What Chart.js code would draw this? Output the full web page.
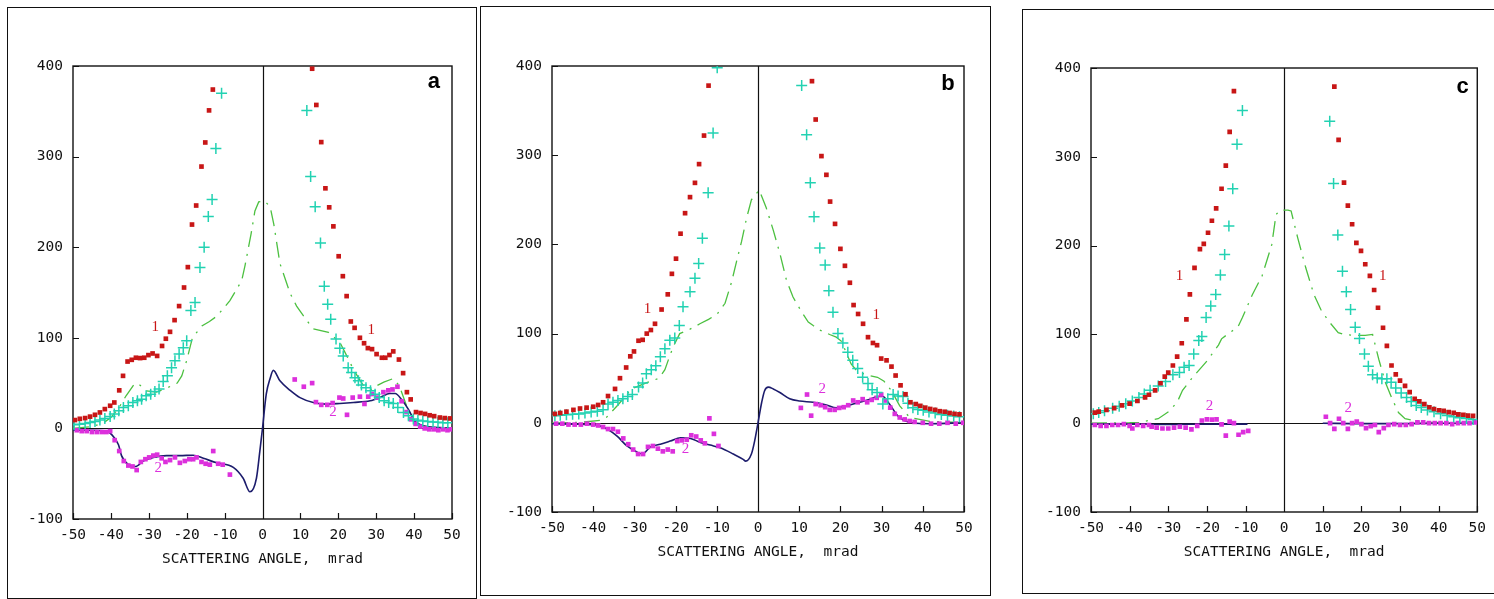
<!DOCTYPE html>
<html>
<head>
<meta charset="utf-8">
<script src="https://cdn.jsdelivr.net/npm/chart.js@4.4.1/dist/chart.umd.min.js"></script>
<style>
  html, body { margin: 0; padding: 0; background: #fff; width: 1494px; height: 599px; overflow: hidden; position: relative; }
  .panel { position: absolute; border: 1.5px solid #111; box-sizing: border-box; }
  canvas { position: absolute; left: 0; top: 0; }
</style>
</head>
<body>
<div class="panel" style="left:7px;top:7px;width:470px;height:592px"></div>
<div class="panel" style="left:480px;top:6px;width:511px;height:590px"></div>
<div class="panel" style="left:1022px;top:9px;width:480px;height:585px"></div>
<canvas id="chartA" width="1494" height="599"></canvas>
<canvas id="chartB" width="1494" height="599"></canvas>
<canvas id="chartC" width="1494" height="599"></canvas>

<script>
// ── Axis ticks ────────────────────────────────────────────────────────
const xTicks = [-50, -40, -30, -20, -10, 0, 10, 20, 30, 40, 50];
const yTicks = [-100, 0, 100, 200, 300, 400];
const xTitle = 'SCATTERING ANGLE,  mrad';
const panelLetters = ['a', 'b', 'c'];
const letterX = [45.2, 46.1, 46.2];
const letterY = [382, 380, 379];
const curveLabels = ['1', '1', '2', '2'];

// ── Panel a ───────────────────────────────────────────────────────────
const aRedX = [-49.5,-48.2,-46.8,-45.5,-44.2,-42.9,-41.6,-40.2,-39.1,-37.8,-36.8,-35.6,-34.5,-33.4,-32.3,-31.2,-30.1,-29,-27.8,-26.5,-25.5,-24.4,-23.2,-22,-20.7,-19.7,-18.6,-17.5,-16.1,-15.1,-14.1,-13.1,
  13.1,14.2,15.5,16.6,17.6,18.7,20.1,21.2,22.2,23.3,24.3,25.7,26.8,27.8,28.9,30.1,31.5,32.4,33.5,34.5,36,37.1,38.1,39.1,40.5,41.7,42.9,44.1,45.3,46.8,48.1,49.5];
const aRedY = [9.2,10.6,11.4,13,15,17.6,21.3,25,28.6,42,58,73.8,75.7,78,77.6,78,80.9,82.7,80,91,99,106.6,119.5,135,155.5,178,225,246,289,315.6,351,374,
  397,357,316,265,244,223,190,168,146,118,111,100,94,88.6,87.5,82,78,78,81,85,76,61,40,32,18,17,16,14.5,13.5,12,11.4,11];
const aCyanX = [-49.7,-48.3,-46.8,-45.5,-44.2,-42.9,-41.6,-40.2,-39.1,-37.9,-36.7,-35.4,-34.2,-33,-31.9,-30.7,-29.5,-28.4,-27.3,-26.2,-25.1,-24,-23.1,-22,-20.9,-20,-18.9,-17.8,-16.5,-15.4,-14.3,-13.3,-12.3,-10.8,
  11.7,12.7,13.9,15.3,16.3,17.2,18,19.4,20.4,21.3,22.6,23.5,24.4,25.3,26.1,27.3,28.5,29.7,30.8,32.1,33.3,34.5,35.7,37.2,38.5,39.8,41,42.3,43.6,45,46.3,47.6,48.9];
const aCyanY = [4,4.7,5.4,6.5,7.6,9.2,11,13,15.8,19.4,23,25,28.6,30.5,32.3,36,37.8,40.7,43.4,51.8,58,67,74.6,82,89,96.7,130,139,177.6,200,234,252.6,309,370,
  351,278,244.6,204.5,157,137,120.6,98.6,88.6,80,67,61.7,56,52.5,48,45,41.5,37.8,34,30.5,28.6,27.5,23,17.6,13.9,10.3,9,8.3,7.6,7,6.8,6.3,6.3];
const aGreenX = [-50,-45,-42,-40,-38,-36,-34,-33,-30.6,-28,-25,-22.5,-21.3,-20,-18.5,-16,-14,-12,-10.8,-8.6,-5.5,-4.6,-3,-2,-1,0.5,2,3,4.6,7.3,9,11.7,13.4,17.4,20.4,22,24,26.5,28.8,30.1,32,34.5,36.1,38,40,42,45,50];
const aGreenY = [0,2,6,12,22,36,48,50,41.5,40,45,50,58,75,100,113,118,124,130,141,163,180,215,240,250,251,245,225,182,149,135,119,110,106,95,82,65,48,43,47,51,55,47,25,8,3,1,0];
const aMagX = [-49,-47.7,-46.4,-45,-43.7,-42.4,-41.2,-40.2,-39,-37.8,-36.6,-35.4,-34.3,-33.2,-32.1,-30.9,-29.9,-28.8,-27.8,-26.6,-25.6,-24.4,-23.1,-21.8,-20.5,-19.3,-18.3,-17.4,-16.1,-15,-13.9,-13,-11.7,-10.5,-8.6,
  8.5,10.9,13.1,14.1,15.5,17.1,18.5,20.3,21.3,22.3,23.8,25.7,26.9,27.9,28.9,30.1,31.9,33.2,34.3,35.6,36.7,38,39.2,40.4,41.6,42.8,44,45.2,46.4,47.6,48.8,49.8];
const aMagY = [-2,-3,-3,-4,-4,-4,-4,-3,-13,-25,-36,-41,-42,-46,-37,-34,-32,-30,-29,-33,-37,-35,-32,-38,-36,-34,-34,-32,-37,-39,-40,-25,-39,-40,-51,
  54,46,50,29,26,26,28,34,33,15,34,35,27,35,38,34,40,42,43,46,30,18,10,5,2,0,-1,-1,-2,-1,-2,-1];
const aNavyX = [-50,-45,-41,-40,-38,-37.2,-35.4,-33.4,-31.5,-28.8,-25.3,-21.8,-18.3,-15.6,-12.1,-7.7,-5.1,-3.3,-1.6,-0.7,0,1,2,2.85,4.6,7.3,9.9,13.4,16.9,20.4,24,28.4,31,33.6,35,36.7,38.5,40.2,42.4,46.8,50];
const aNavyY = [-2,-2,-3,-6,-18,-30,-40,-42,-36,-32,-30,-30,-29.6,-33,-38,-43,-55,-70,-55,-25,0,38,55,64,52.5,42,34,28.6,26.8,27.5,28.6,30.5,34,38.5,38.5,32,21,8,3,1,0];
const aLabelX = [-28.3, 28.7, -27.5, 18.6];
const aLabelY = [112, 109, -44, 18];

// ── Panel b ───────────────────────────────────────────────────────────
const bRedX = [-49.3,-48,-46.5,-44.8,-43.2,-41.6,-40,-38.8,-37.6,-36.4,-34.7,-33.5,-32,-31,-30.1,-29,-28,-27,-26,-25,-23.4,-21.9,-20.9,-19.9,-18.8,-17.7,-16.5,-15.3,-14.3,-13.1,-12,
  13.1,14,15.4,16.6,17.5,18.7,20,21.1,22.3,23.2,24.3,25.5,26.7,27.9,28.9,29.9,31.2,32.4,33.4,34.6,35.8,37,38.3,39.4,40.6,41.8,43,44.1,45.3,46.5,47.7,48.9];
const bRedY = [10,11,12.5,14.5,16,17,18,20,23,30,38,50,62,74.5,80,92,93,100,104,111,127,144,167,184,212,235,253,269,290,322,378,
  383,340,299,278,248,223,195,176,157,132,122,111,96,89.5,87,72,70,63,53,42,32,23,21,19,17,15.5,14.5,13,12.4,11,10,9.5];
const bCyanX = [-49.3,-48,-46.5,-45,-43.5,-42,-40.5,-39,-37.6,-36.4,-35.2,-34,-32.8,-31.6,-30.5,-29,-28,-27.1,-25.9,-24.8,-23.7,-22.6,-21.4,-20.2,-19.1,-18.2,-16.5,-15.3,-14.4,-13.5,-12.1,-10.9,-9.9,
  10.6,11.8,12.7,13.6,15,16.3,17.2,18.2,19.4,20.6,21.8,23,24.2,25.4,26.7,27.7,28.9,30.3,31.5,32.8,34,35.2,36.4,37.6,38.8,40.1,41.5,43,44.5,46,47.5,48.9];
const bCyanY = [8,8.5,9,9.5,10,11,12,13,14.5,21,23,25,27,29.5,31.7,40,44.5,55,59.5,64,74,83,92.5,95,109,130,147,162,178.5,207,258,325,398,
  378,323,269,231,196,177,148,124,100,89.5,79,70,61,51,44,37,34,21,27,31.7,30,29.5,22,17,15,14,12,11,9.4,8.6,7.7,6.8];
const bGreenX = [-50,-43,-38,-36.8,-34,-30.7,-27,-24,-22.6,-21.8,-20.6,-19,-16.5,-14.1,-12,-9.9,-8,-6.4,-5.2,-4,-2.8,-1.6,0.3,2,3.7,5.3,6.9,8.5,10.5,12.2,13.4,15,17.4,19,20.2,21.4,22.6,24.2,27,29,30.6,32.4,34.4,36.8,41.7,50];
const bGreenY = [0,0.5,3,6,20,38,45,50,59.5,70,85,100,105,111,116,122,134,158,181,203,229,250,261,241,216,190,160,141,125,113,109,104,99,96,91.6,79,66,57,53,51,46.6,36,19,6,1.7,0];
const bMagX = [-49,-47.5,-46,-44.5,-43,-41.5,-40,-38.8,-37.6,-36.4,-35.2,-34,-32.7,-31.5,-30.3,-29.1,-27.9,-26.7,-25.5,-24.3,-23.1,-21.9,-20.7,-19.6,-18.5,-17.3,-16.2,-15,-13.9,-12.9,-11.8,-10.7,-9.6,
  10.4,11.9,12.9,14,15.2,16.3,17.4,18.6,19.7,20.8,21.9,23.1,24.2,25.4,26.5,27.6,28.8,29.9,31,32.1,33.2,34.4,35.6,36.8,38,40,42,44,46,48,49.8];
const bMagY = [-1,-1,-2,-2,-2,-1,-2,-3,-4.7,-7,-7,-10,-17.5,-24,-30,-35,-35,-27,-26,-29,-32,-30,-32,-20.5,-19.7,-19,-14,-15.4,-19.7,-23,5,-12.4,-26,
  16.7,31.7,8,21,19.7,17.5,14.5,14.5,16.7,17.5,19.7,25,23,26.5,23,25.7,28,31.7,25,17,10,6,3.8,2,1,0,-1,-1,0,-1,0];
const bNavyX = [-50,-45,-40,-39,-36.6,-34.2,-31.8,-29.3,-28.1,-26.1,-23.7,-21.3,-18.8,-16.4,-14,-11.6,-9.2,-6,-3.6,-3,-1.6,-0.8,0,0.9,1.6,2.5,3.7,5.3,7.7,10.1,13.4,16.6,19,21.4,24.6,27,29,30.3,31.9,33.9,35.5,37.6,41.7,50];
const bNavyY = [-1,-1.5,-2,-2.6,-7,-15,-26,-33,-35,-27,-24,-20.5,-16.7,-17.5,-22,-25,-28,-35,-41,-43,-35,-20,0,23,36,40,38,34,27,24.4,23,20,16.7,19,23,26,29.5,29.5,21,8,2.6,0,-1,0];
const bLabelX = [-26.8, 28.7, -17.6, 15.6];
const bLabelY = [128, 121, -30, 38];

// ── Panel c ───────────────────────────────────────────────────────────
const cRedX = [-49,-48,-46,-44,-42,-40,-38,-36,-35,-33.4,-32,-30.9,-30,-28.8,-27.7,-26.5,-25.3,-24.4,-23.2,-21.8,-20.8,-19.7,-18.7,-17.6,-16.2,-15.1,-14.1,-13,
  13,14.1,15.5,16.5,17.6,18.7,19.9,21,22.2,23.3,24.3,25.6,26.6,27.8,28.9,30,31.3,32.5,33.8,35,36.3,37.6,38.8,40.1,41.3,42.6,43.9,45.1,46.4,47.6,48.9];
const cRedY = [12,13,15,17,20,22,25,29,32,37,45,52.5,57,65,75,90,117,145,175,196,202,214.5,228,242,264,290,328,374,
  379,319,271,245,224,203,194,179,166,150,130,107.5,87,65,55,48,42,35,27.5,24.5,21.5,18,16,14.6,13.8,12.5,11.6,10,9.5,8.6,8.2];
const cCyanX = [-49.4,-48,-46.5,-44.4,-42.7,-41,-39.3,-37.6,-36.2,-34.7,-32.6,-30.7,-28.8,-27.1,-25.9,-24.6,-23.4,-22.1,-21.3,-20.2,-19,-17.7,-16.5,-15.4,-14.3,-13.3,-12.2,-10.8,
  11.8,12.8,13.9,15.1,16.1,17.2,18.4,19.5,20.8,21.8,22.9,24.1,25.3,26.6,27.7,28.9,30.3,31.7,32.9,34.2,35.5,37.1,38.8,40.5,42.2,43.9,45.5,47.2,48.9];
const cCyanY = [10.7,12,14,16.8,19,22,25,29,33,37,42,47,54.6,57,63,65,78,93,97.6,119,132,145,167,190,222,264,314,352,
  340,270,212,171,148,128,108,95.4,78,64,54.6,51,50,50,46,39.5,34,29,24.5,20,17.6,15,12.9,10.7,8.6,7.3,6,5.2,4.3];
const cGreenX = [-50,-40,-37.6,-32.6,-29.6,-27.6,-26.3,-24,-20,-17,-16.2,-14.1,-12,-10.8,-8.2,-5.7,-3.2,-2.1,-1,0,1,1.8,3.5,5.6,7.7,9.5,11.5,14,15.5,18,21,22.9,24.5,26.2,27.9,29.6,31.3,36.3,50];
const cGreenY = [0,0.5,1,5,14,24.5,37,50,70,88,95,102,108,119,145,166,201,235,240,240,240,239,209,175,145,128,115,102,100,99,99,100,72,46,28,12,5,1,0];
const cMagX = [-49,-47.5,-46,-44.5,-43,-41.5,-40,-39.3,-38,-36.5,-35,-34.3,-33,-31.5,-30,-28.5,-27,-25.5,-24,-22.5,-21.3,-20,-18.7,-17.5,-16.2,-15.1,-14.1,-13,-11.8,-10.6,-9.3,
  10.8,11.9,13,14.2,15.3,16.5,17.6,18.8,20,21.2,22.4,23.5,24.5,25.8,27,28.5,30,31.5,33,34.5,36,37.5,39,40.5,42,43.5,45,46.5,48,49.5];
const cMagY = [-2,-3,-3,-2,-2,-1,-3,-6,-2,-3,-2,-4,-5,-6,-6,-5,-4,-5,-7,-3,3,4.3,4,4.3,-1.3,-14,1.7,0,-13,-10,-8.6,
  7.3,0,-6.4,5,0,-6.4,0,1.7,-1,-5.6,-3.4,-2,-10,-5.6,-2,-1,-2,-2,-1,1,1,0,0,0,0,-1,0,0,0,1];
const cNavyX = [-50,-40,-30,-20,-9.5,0,10,20,30,40,50];
const cNavyY = [-1,-1,-1.5,-1,-1,null,0,-0.5,-0.5,0,0];
const cLabelX = [-27.1, 25.5, -19.3, 16.6];
const cLabelY = [166, 166, 19, 17];

// ── Helpers ───────────────────────────────────────────────────────────
const MONO = '"DejaVu Sans Mono", "Liberation Mono", monospace';
const RED = '#c81616', CYAN = '#22d2b2', GREEN = '#4cc040', MAGENTA = '#dc30dc', NAVY = '#1c1c6c';

function pts(xs, ys) {
  return xs.map((x, i) => ({ x, y: ys[i] }));
}

// frame, zero lines, inward ticks, curve labels and panel letter
const framePlugin = {
  id: 'frame',
  beforeDatasetsDraw(chart) {
    const { ctx, chartArea: a, scales: { x, y } } = chart;
    ctx.save();
    ctx.strokeStyle = '#111';
    ctx.lineWidth = 1.4;
    ctx.strokeRect(a.left, a.top, a.right - a.left, a.bottom - a.top);
    ctx.lineWidth = 1.2;
    ctx.beginPath();
    const x0 = Math.round(x.getPixelForValue(0)) + 0.5;
    const y0 = Math.round(y.getPixelForValue(0)) + 0.5;
    ctx.moveTo(x0, a.top); ctx.lineTo(x0, a.bottom);
    ctx.moveTo(a.left, y0); ctx.lineTo(a.right, y0);
    xTicks.forEach(v => {
      const px = Math.round(x.getPixelForValue(v)) + 0.5;
      ctx.moveTo(px, a.bottom); ctx.lineTo(px, a.bottom - 6);
    });
    yTicks.forEach(v => {
      const py = Math.round(y.getPixelForValue(v)) + 0.5;
      ctx.moveTo(a.left, py); ctx.lineTo(a.left + 6, py);
    });
    ctx.stroke();
    ctx.restore();
  },
  afterDatasetsDraw(chart, args, opts) {
    const { ctx, scales: { x, y } } = chart;
    ctx.save();
    ctx.textAlign = 'center';
    ctx.textBaseline = 'middle';
    ctx.font = '15px "Liberation Serif", serif';
    opts.labelX.forEach((lx, i) => {
      ctx.fillStyle = i < 2 ? RED : MAGENTA;
      ctx.fillText(curveLabels[i], x.getPixelForValue(lx), y.getPixelForValue(opts.labelY[i]));
    });
    ctx.fillStyle = '#000';
    ctx.font = 'bold 22px "Liberation Sans", Arial, sans-serif';
    ctx.fillText(panelLetters[opts.panel], x.getPixelForValue(letterX[opts.panel]), y.getPixelForValue(letterY[opts.panel]));
    ctx.restore();
  }
};

function makePanel(id, panel, plot, d) {
  const AXW = 60, AXH = 60;
  return new Chart(document.getElementById(id), {
    type: 'scatter',
    data: {
      datasets: [
        { data: pts(d.redX, d.redY), pointStyle: 'rect', pointRadius: 3.3, backgroundColor: RED, borderWidth: 0 },
        { data: pts(d.cyanX, d.cyanY), pointStyle: 'cross', pointRadius: 5.5, borderColor: CYAN, borderWidth: 1.5 },
        { data: pts(d.magX, d.magY), pointStyle: 'rect', pointRadius: 3.3, backgroundColor: MAGENTA, borderWidth: 0 },
        { data: pts(d.navyX, d.navyY), showLine: true, pointRadius: 0, borderColor: NAVY, borderWidth: 1.6,
          cubicInterpolationMode: 'monotone', spanGaps: false },
        { data: pts(d.greenX, d.greenY), showLine: true, pointRadius: 0, borderColor: GREEN, borderWidth: 1.3,
          borderDash: [16, 7, 2, 7] }
      ]
    },
    options: {
      responsive: false,
      animation: false,
      events: [],
      layout: {
        autoPadding: false,
        padding: { left: plot.l - AXW, right: 1494 - plot.r, top: plot.t, bottom: 599 - plot.b - AXH }
      },
      plugins: {
        legend: { display: false },
        tooltip: { enabled: false },
        frame: { panel, labelX: d.labelX, labelY: d.labelY }
      },
      scales: {
        x: {
          type: 'linear', min: -50, max: 50,
          afterBuildTicks: s => { s.ticks = xTicks.map(v => ({ value: v })); },
          afterFit: s => { s.height = AXH; },
          grid: { display: false, drawTicks: false },
          border: { display: false },
          ticks: { padding: 8, color: '#111', font: { family: MONO, size: 14.5 }, maxRotation: 0 },
          title: { display: true, text: xTitle, color: '#111', font: { family: MONO, size: 14.5 }, padding: { top: 0, bottom: 11 } }
        },
        y: {
          type: 'linear', min: -100, max: 400,
          afterBuildTicks: s => { s.ticks = yTicks.map(v => ({ value: v })); },
          afterFit: s => { s.width = AXW; },
          grid: { display: false, drawTicks: false },
          border: { display: false },
          ticks: { padding: 10, color: '#111', font: { family: MONO, size: 14.5 } }
        }
      }
    },
    plugins: [framePlugin]
  });
}

makePanel('chartA', 0, { l: 73, r: 452, t: 66, b: 519 }, {
  redX: aRedX, redY: aRedY, cyanX: aCyanX, cyanY: aCyanY, greenX: aGreenX, greenY: aGreenY,
  magX: aMagX, magY: aMagY, navyX: aNavyX, navyY: aNavyY, labelX: aLabelX, labelY: aLabelY
});
makePanel('chartB', 1, { l: 552, r: 964, t: 66, b: 512 }, {
  redX: bRedX, redY: bRedY, cyanX: bCyanX, cyanY: bCyanY, greenX: bGreenX, greenY: bGreenY,
  magX: bMagX, magY: bMagY, navyX: bNavyX, navyY: bNavyY, labelX: bLabelX, labelY: bLabelY
});
makePanel('chartC', 2, { l: 1091, r: 1488, t: 68, b: 512 }, {
  redX: cRedX, redY: cRedY, cyanX: cCyanX, cyanY: cCyanY, greenX: cGreenX, greenY: cGreenY,
  magX: cMagX, magY: cMagY, navyX: cNavyX, navyY: cNavyY, labelX: cLabelX, labelY: cLabelY
});
</script>
</body>
</html>
